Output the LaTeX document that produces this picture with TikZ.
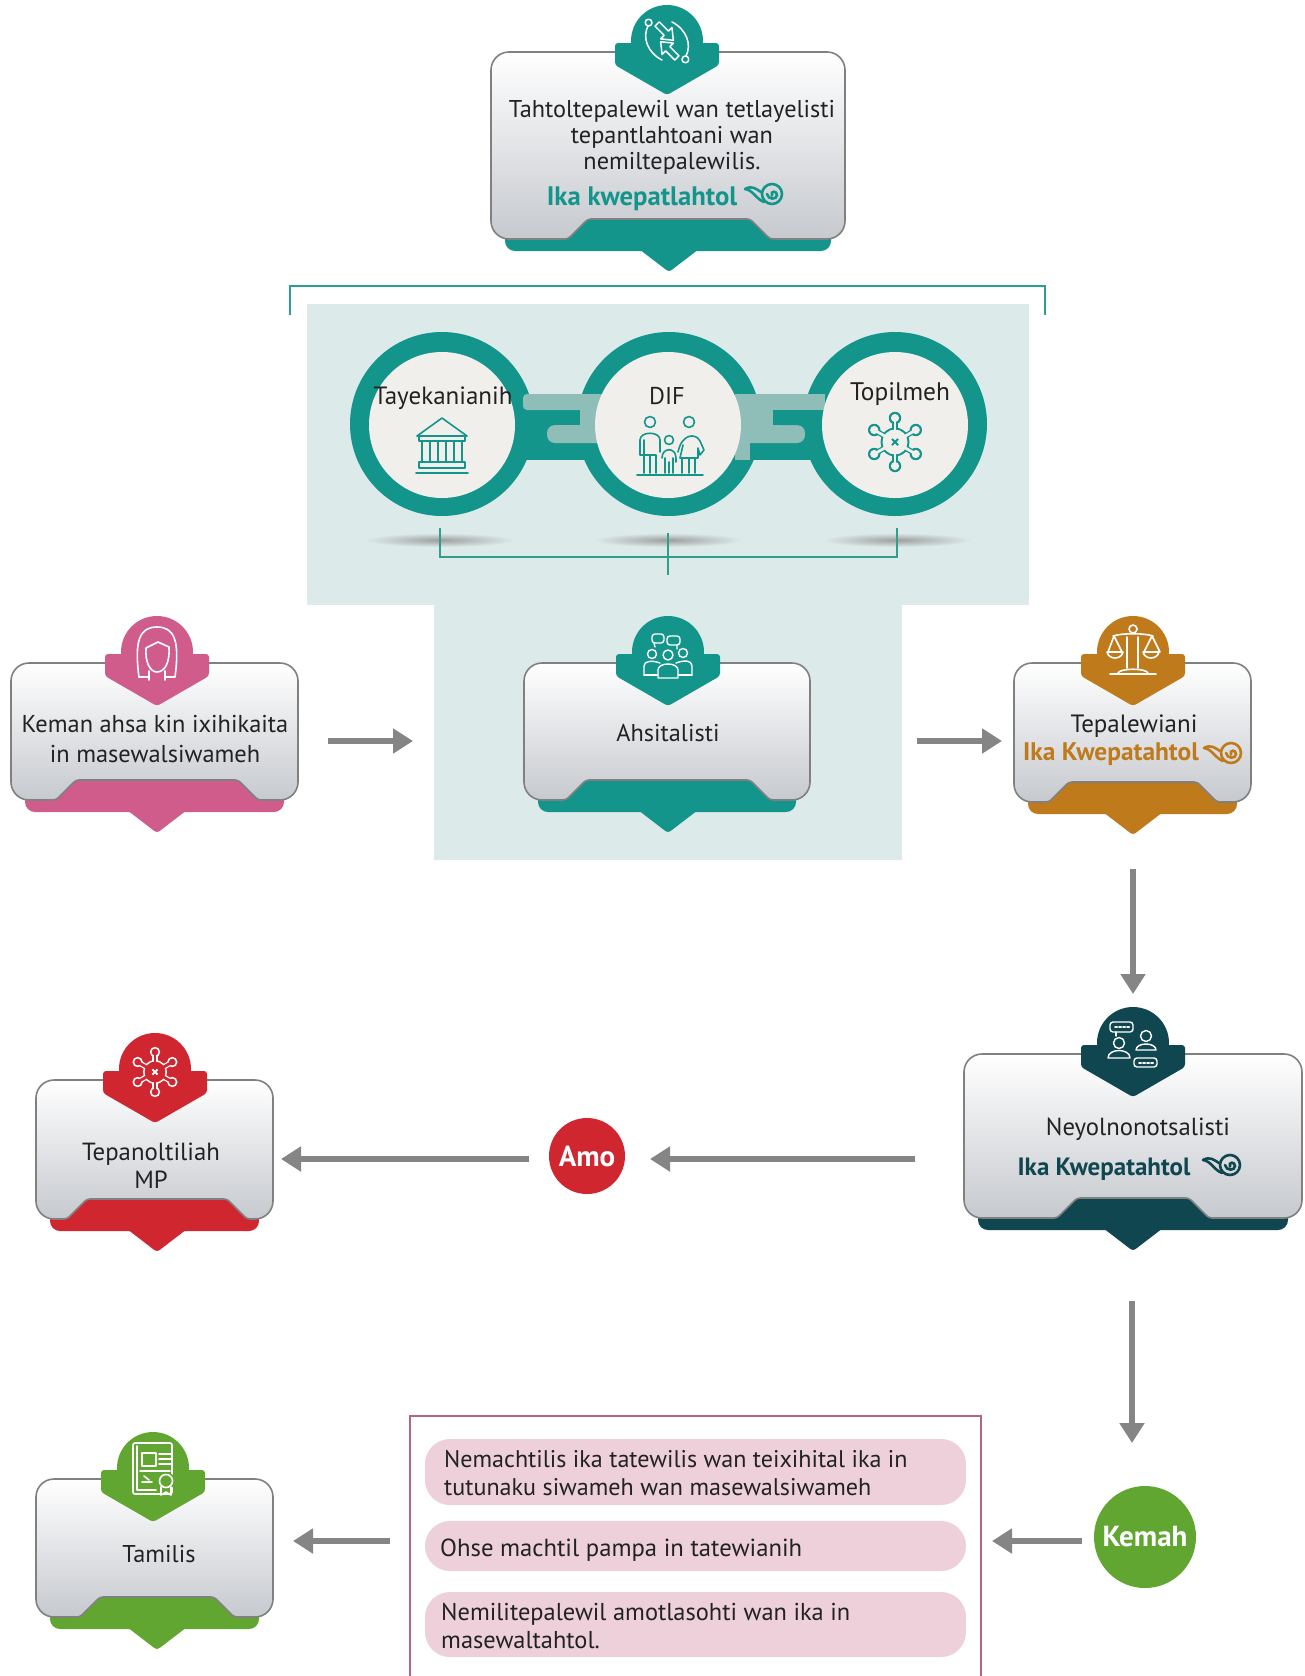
\documentclass[tikz,border=0pt]{standalone}
\usepackage{fontspec}
\setmainfont{PT Sans}
\usetikzlibrary{arrows.meta,calc}
\definecolor{teal1}{HTML}{14958C}
\definecolor{teal2}{HTML}{8FBDB8}
\definecolor{bgteal}{HTML}{DCEBEA}
\definecolor{brk}{HTML}{2F9E8C}
\definecolor{pinkc}{HTML}{CF5C8B}
\definecolor{orangec}{HTML}{BF7A1C}
\definecolor{darkc}{HTML}{0F4650}
\definecolor{redc}{HTML}{D0262F}
\definecolor{greenc}{HTML}{62A632}
\definecolor{disc}{HTML}{F1EFEC}
\definecolor{pillc}{HTML}{EDD0D9}
\definecolor{boxc}{HTML}{B5657F}
\definecolor{inkc}{HTML}{222222}
\definecolor{cardlow}{HTML}{C6C9CE}
\newcommand{\fs}[2]{\fontsize{#1}{#2}\selectfont}
\tikzset{
  x=1pt,y=-1pt,
  flow/.style={draw=black!48,line width=6.5pt,-{Triangle[length=20pt,width=24pt]}},
  lbl/.style={anchor=base,inner sep=0pt,align=center,text=inkc,font=\fs{24.3}{26}},
  bold/.style={anchor=base,inner sep=0pt,font=\bfseries\fs{25}{26}},
  ico/.style={line width=1.6pt,line join=round,line cap=round},
  bracket/.style={draw=brk,line width=2pt},
  pill/.style={fill=pillc,rounded corners=25pt},
  round/.style={circle,inner sep=0pt,minimum size=#1,font=\bfseries\fs{29}{30},text=white},
}
% card l r t b cx nt colour
\newcommand{\card}[7]{%
  \fill[#7,rounded corners=10pt] ({#1+14},{#4-16}) -- ({#2-14},{#4-16}) -- ({#2-14},{#4+12}) -- ({#1+14},{#4+12}) -- cycle;
  \fill[#7,rounded corners=3pt] ({#5-30},{#4+10}) -- ({#5+30},{#4+10}) -- (#5,{#4+33}) -- cycle;
  \fill[#7] ({#5-#6-22},{#4+2}) -- ({#5-#6},{#4-21}) -- ({#5+#6},{#4-21}) -- ({#5+#6+22},{#4+2}) -- cycle;
  \path[draw=black!50,line width=1.6pt,top color=white,middle color=white,bottom color=cardlow,rounded corners=18pt]
    ({#5},#3) -- (#2,#3) -- (#2,#4) [rounded corners=3pt] -- ({#5+#6+20},#4) -- ({#5+#6},{#4-20}) -- ({#5-#6},{#4-20}) -- ({#5-#6-20},#4) [rounded corners=18pt] -- (#1,#4) -- (#1,#3) -- cycle;
}
% badge cx top colour
\newcommand{\badge}[3]{%
  \fill[#3] (#1,{#2-11}) circle [radius=36];
  \fill[#3,rounded corners=3pt] ({#1-52},{#2-9}) -- ({#1+52},{#2-9}) -- ({#1+52},{#2+13}) -- (#1,{#2+43}) -- ({#1-52},{#2+13}) -- cycle;
}
% spiral x y colour
\newcommand{\spiral}[3]{%
  \begin{scope}[shift={(#1,#2)},draw=#3,line width=2.6pt,line cap=round]
    \draw (8,0) circle [radius=10];
    \draw (8,1.5) .. controls (6,-3.5) and (13,-3.5) .. (13,1) .. controls (13,6) and (4,6) .. (3,0);
    \draw (-19,-5) .. controls (-12,-9) and (-8,-5) .. (-3,-2);
    \draw (-19,-5) .. controls (-11,-4) and (-8,5) .. (0,8);
  \end{scope}}
% virus x y line fill scale
\newcommand{\virus}[5]{%
  \begin{scope}[shift={(#1,#2)},scale=#5]
    \foreach \a in {90,150,210,270,330,30} {
      \draw[#3,line width=5.4pt] (0,0) -- (\a:19);
      \fill[#3] (\a:20) circle [radius=5.2];}
    \fill[#3] (0,0) circle [radius=12];
    \foreach \a in {90,150,210,270,330,30} {
      \draw[#4,line width=2.8pt] (0,0) -- (\a:19);
      \fill[#4] (\a:20) circle [radius=3.4];}
    \fill[#4] (0,0) circle [radius=10.4];
    \draw[#3,line width=1.8pt] (-2.6,-2.6) -- (2.6,2.6) (-2.6,2.6) -- (2.6,-2.6);
  \end{scope}}
\begin{document}
\begin{tikzpicture}
\useasboundingbox (0,0) rectangle (1304,1676);
\clip (0,0) rectangle (1304,1676);
\fill[white] (0,0) rectangle (1304,1676);

% teal backgrounds
\fill[bgteal] (307,304) rectangle (1029,605);
\fill[bgteal] (434,600) rectangle (902,860);
\draw[bracket] (290,315) -- (290,286) -- (1045,286) -- (1045,315);

% shadows under rings
\shade[inner color=black!38,outer color=bgteal] (440,540) ellipse [x radius=75,y radius=7];
\shade[inner color=black!38,outer color=bgteal] (668,540) ellipse [x radius=75,y radius=7];
\shade[inner color=black!38,outer color=bgteal] (897,540) ellipse [x radius=75,y radius=7];
\draw[bracket] (440,528) -- (440,557) -- (897,557) -- (897,528);
\draw[bracket] (668,533) -- (668,575);

% rings
\fill[teal1] (442,424) circle [radius=92];
\fill[teal1] (669,424) circle [radius=92];
\fill[teal1] (895,424) circle [radius=92];
% links
\fill[teal1] (515,408) rectangle (600,460);
\fill[teal1] (745,408) rectangle (830,460);
\fill[teal2,rounded corners=4pt] (523,394) rectangle (605,410);
\fill[teal2] (580,394) rectangle (600,443);
\fill[teal2,rounded corners=8pt] (547,425) rectangle (610,443);
\fill[teal2] (735,394) rectangle (825,410);
\fill[teal2] (735,394) rectangle (750,460);
\fill[teal2] (735,410) rectangle (773,443);
\fill[teal2,rounded corners=8pt] (740,425) rectangle (805,443);
\fill[teal1,rounded corners=7pt] (773,410) rectangle (815,425);
% discs
\fill[disc] (442,425) circle [radius=73];
\fill[disc] (668,425) circle [radius=73];
\fill[disc] (895,425) circle [radius=73];
\node[lbl,font=\fs{25}{26}] (tay) at (443,404) {Tayekanianih};
\node[lbl] (dif) at (667,404) {DIF};
\node[lbl,font=\fs{25.4}{26}] (top) at (900,400) {Topilmeh};

% building icon
\begin{scope}[ico,draw=teal1]
  \draw (417,436) -- (442,418) -- (467,436) -- cycle;
  \draw (419,436) rectangle (465,441);
  \foreach \c in {426,442,458} {\draw (\c-4,441) rectangle (\c+4,462);}
  \draw (419,462) rectangle (465,468);
  \draw (416,473) -- (468,473);
\end{scope}
% family icon
\begin{scope}[ico,draw=teal1]
  \draw (650,422) circle [radius=5.5];
  \draw (689,422) circle [radius=5.5];
  \draw (669,440) circle [radius=4.5];
  \draw (644,455) -- (640,455) -- (640,440) .. controls (640,431) and (660,431) .. (660,440) -- (660,452);
  \draw (644,440) -- (644,473) (650,455) -- (650,473) (656,455) -- (656,473) (656,455) -- (644,455);
  \draw (662,458) .. controls (662,447) and (676,447) .. (676,458) -- (676,462) (665,458) -- (665,473) (669,462) -- (669,473) (673,458) -- (673,473);
  \draw (678,452) .. controls (682,433) and (696,433) .. (700,441) -- (704,450) -- (700,455) -- (698,448) -- (698,458) -- (680,458) -- (683,445);
  \draw (682,458) -- (682,473) (689,458) -- (689,473) (695,458) -- (695,473);
  \draw (637,475) -- (703,475);
\end{scope}
\virus{895}{442}{teal1}{disc}{1.2}

% top card
\card{491}{845}{52}{239}{669}{81}{teal1}
\badge{667}{52}{teal1}
\begin{scope}[ico,draw=white,shift={(667,41)},rotate=-45,line width=1.5pt]
  \draw (-24,3) .. controls (-20,15) and (-6,22) .. (10,17);
  \draw (24,-3) .. controls (20,-15) and (6,-22) .. (-10,-17);
  \draw (-26,0) circle [radius=3.4] (26,0) circle [radius=3.4];
  \draw (-19,-8) -- (-6,-8) -- (-6,-13) -- (4,-5) -- (-6,3) -- (-6,-2) -- (-19,-2) -- cycle;
  \draw (19,8) -- (6,8) -- (6,13) -- (-4,5) -- (6,-3) -- (6,2) -- (19,2) -- cycle;
\end{scope}
\node[lbl] (n1) at (672,169) {Tahtoltepalewil wan tetlayelisti\\tepantlahtoani wan\\nemiltepalewilis.};
\node[bold,text=teal1,font=\bfseries\fs{26.7}{28}] (n1b) at (642,205) {Ika kwepatlahtol};
\spiral{764}{194}{teal1}

% pink
\card{11}{298}{663}{800}{157}{81}{pinkc}
\badge{157}{663}{pinkc}
\begin{scope}[ico,draw=white]
  \draw (139,677) .. controls (134,640) and (140,627) .. (157,627) .. controls (174,627) and (180,640) .. (175,677) -- (165,677);
  \draw (139,677) -- (149,677);
  \draw (146,648) -- (158,642) -- (169,647) .. controls (170,662) and (165,672) .. (157,672) .. controls (150,672) and (145,662) .. (146,648);
  \draw (149,671) -- (149,680) (165,671) -- (165,680);
\end{scope}
\node[lbl,font=\fs{24.4}{30}] (n2) at (155,762) {Keman ahsa kin ixihikaita\\in masewalsiwameh};

% ahsitalisti
\card{524}{810}{663}{800}{668}{82}{teal1}
\badge{668}{663}{teal1}
\begin{scope}[ico,draw=white,line width=1.4pt]
  \draw[rounded corners=3pt] (652,634) rectangle (664,643);
  \draw[rounded corners=3pt] (667,636) rectangle (680,645);
  \draw (654,643) -- (655,647) (677,645) -- (677,649);
  \draw (652,654) circle [radius=4.5] (668,655) circle [radius=5] (683,653) circle [radius=4.5];
  \draw (644,675) -- (644,666) .. controls (644,661) and (652,660) .. (660,663);
  \draw (692,675) -- (692,666) .. controls (692,660) and (684,660) .. (676,663);
  \draw (644,675) -- (658,675) (678,675) -- (692,675);
  \draw (658,678) -- (658,670) .. controls (658,662) and (678,662) .. (678,670) -- (678,678) -- cycle;
\end{scope}
\node[lbl] (n3) at (668,741) {Ahsitalisti};

% orange
\card{1014}{1251}{663}{802}{1133}{64}{orangec}
\badge{1133}{663}{orangec}
\begin{scope}[ico,draw=white]
  \draw (1133,629) circle [radius=4];
  \draw (1113,636) .. controls (1122,633) and (1144,633) .. (1153,636);
  \draw (1114,636) -- (1108,652) (1114,636) -- (1122,652) (1152,636) -- (1144,652) (1152,636) -- (1160,652);
  \draw (1107,652) .. controls (1109,660) and (1121,660) .. (1123,652) -- cycle;
  \draw (1143,652) .. controls (1145,660) and (1157,660) .. (1159,652) -- cycle;
  \draw (1127,637) -- (1127,668) (1138,637) -- (1138,668);
  \draw (1118,673) .. controls (1120,668) and (1146,668) .. (1148,673);
  \draw (1110,674) -- (1156,674);
\end{scope}
\node[lbl,font=\fs{25}{26}] (n4) at (1134,732) {Tepalewiani};
\node[bold,text=orangec,font=\bfseries\fs{25.4}{26}] (n4b) at (1111,760) {Ika Kwepatahtol};
\spiral{1223}{753}{orangec}

% dark
\card{964}{1302}{1054}{1218}{1133}{56}{darkc}
\badge{1133}{1054}{darkc}
\begin{scope}[ico,draw=white,line width=1.4pt]
  \draw[rounded corners=3pt] (1110,1022) rectangle (1133,1032);
  \draw (1116,1032) -- (1116,1036);
  \draw (1119,1043) circle [radius=5.5] (1146,1036) circle [radius=5.5];
  \draw (1108,1058) .. controls (1108,1048) and (1130,1048) .. (1130,1058) -- cycle;
  \draw (1136,1050) .. controls (1136,1042) and (1156,1042) .. (1156,1050) -- cycle;
  \draw[rounded corners=3pt] (1134,1058) rectangle (1157,1067);
  \draw[line width=2pt,dash pattern=on 2pt off 2pt] (1115,1027) -- (1129,1027) (1139,1062.5) -- (1153,1062.5);
\end{scope}
\node[lbl,font=\fs{24.7}{26}] (n5) at (1138,1135) {Neyolnonotsalisti};
\node[bold,text=darkc] (n5b) at (1104,1175) {Ika Kwepatahtol};
\spiral{1222}{1165}{darkc}

% red
\card{36}{273}{1080}{1219}{157}{70}{redc}
\badge{155}{1080}{redc}
\virus{155}{1072}{white}{redc}{1}
\node[lbl,font=\fs{24.8}{28}] (n6) at (151,1188) {Tepanoltiliah\\MP};

% green
\card{36}{273}{1479}{1617}{157}{57}{greenc}
\badge{153}{1479}{greenc}
\begin{scope}[ico,draw=white]
  \draw[rounded corners=2pt] (133,1443) rectangle (172,1494);
  \draw (137,1446) -- (137,1490) -- (156,1490);
  \draw (142,1453) rectangle (156,1466);
  \draw (159,1454) -- (171,1454) (159,1459) -- (171,1459) (159,1464) -- (171,1464);
  \draw (140,1471) -- (170,1471);
  \draw (142,1482) -- (152,1482) (144,1476) -- (149,1480);
  \fill[greenc] (166,1481) circle [radius=9];
  \draw (166,1481) circle [radius=6.5];
  \draw (161,1487) -- (161,1495) -- (166,1492) -- (171,1495) -- (171,1487);
\end{scope}
\node[lbl] (n7) at (159,1562) {Tamilis};

% decision circles
\node[round=76pt,fill=redc] (amo) at (587,1156) {Amo};
\node[round=102pt,fill=greenc] (kemah) at (1145,1537) {Kemah};

% criteria box
\draw[boxc,line width=1.6pt] (410,1690) -- (410,1416) -- (981,1416) -- (981,1690);
\fill[pill] (425,1439) rectangle (966,1505);
\fill[pill] (425,1521) rectangle (966,1571);
\fill[pill] (425,1592) rectangle (966,1657);
\node[lbl,align=left,anchor=base west,font=\fs{24.1}{28}] (p1) at (444,1495) {Nemachtilis ika tatewilis wan teixihital ika in\\tutunaku siwameh wan masewalsiwameh};
\node[lbl,align=left,anchor=base west,font=\fs{24.7}{28}] (p2) at (440,1556) {Ohse machtil pampa in tatewianih};
\node[lbl,align=left,anchor=base west,font=\fs{24.4}{28}] (p3) at (441,1648) {Nemilitepalewil amotlasohti wan ika in\\masewaltahtol.};

% arrows
\coordinate (a1s) at (328,741); \coordinate (a1e) at (413,741);
\coordinate (a2s) at (917,741); \coordinate (a2e) at (1002,741);
\coordinate (a3s) at (1133,869); \coordinate (a3e) at (1133,994);
\coordinate (a4s) at (915,1159); \coordinate (a4e) at (650,1159);
\coordinate (a5s) at (529,1159); \coordinate (a5e) at (281,1159);
\coordinate (a6s) at (1132,1301); \coordinate (a6e) at (1132,1443);
\coordinate (a7s) at (1082,1541); \coordinate (a7e) at (992,1541);
\coordinate (a8s) at (390,1541); \coordinate (a8e) at (293,1541);
\draw[flow] (a1s) -- (a1e);
\draw[flow] (a2s) -- (a2e);
\draw[flow] (a3s) -- (a3e);
\draw[flow] (a4s) -- (a4e);
\draw[flow] (a5s) -- (a5e);
\draw[flow] (a6s) -- (a6e);
\draw[flow] (a7s) -- (a7e);
\draw[flow] (a8s) -- (a8e);
\end{tikzpicture}
\end{document}
